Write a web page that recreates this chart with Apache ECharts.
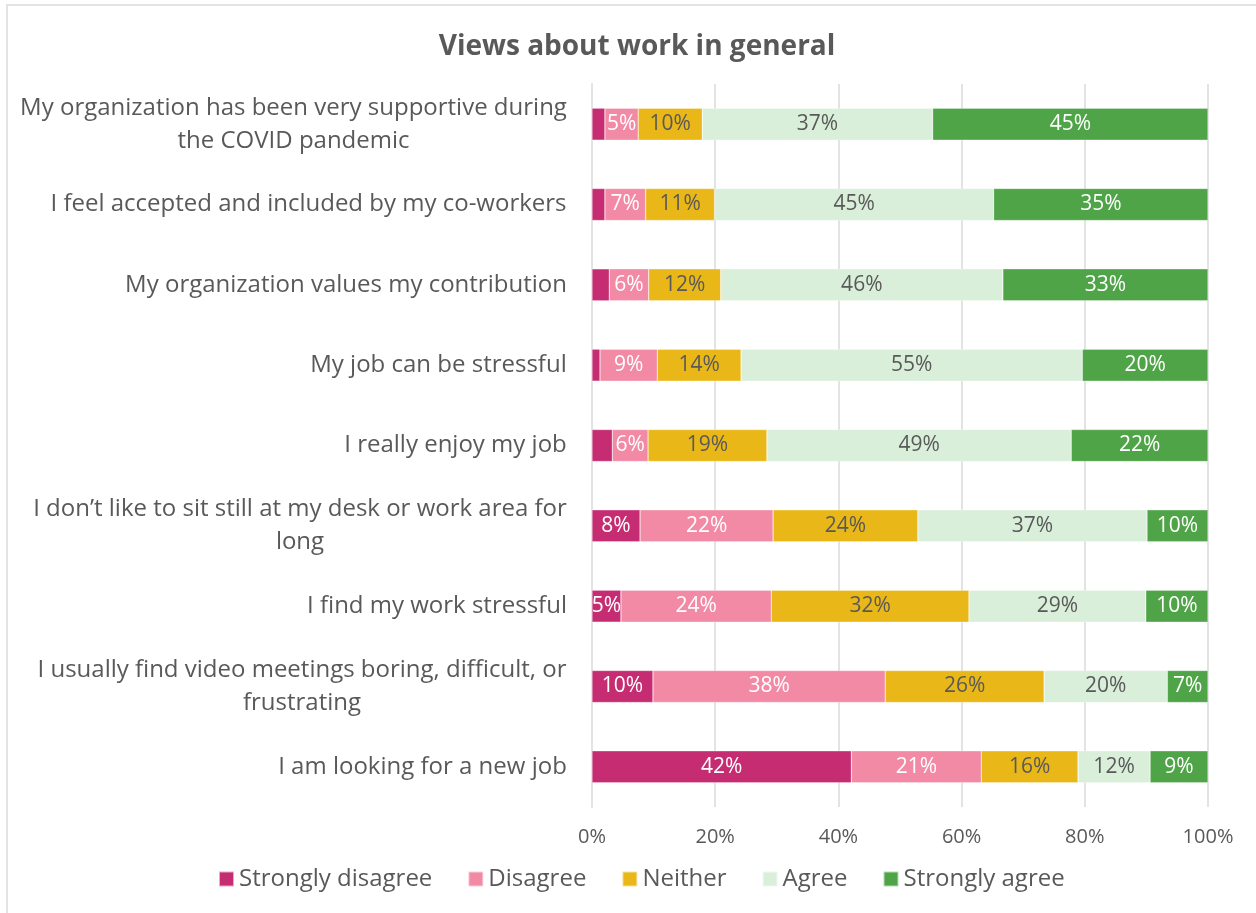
<!DOCTYPE html>
<html>
<head>
<meta charset="utf-8">
<title>Views about work in general</title>
<script src="https://cdn.jsdelivr.net/npm/echarts@6/dist/echarts.min.js"></script>
<style>
  html, body { margin: 0; padding: 0; background: #fff; }
  #frame { position: absolute; left: 6px; top: 4px; width: 1260px; height: 920px;
           border-left: 2px solid #e3e3e3; border-top: 2px solid #e3e3e3; }
  #chart { position: absolute; left: 0; top: 0; width: 1256px; height: 913px; }
</style>
</head>
<body>
<div id="frame"></div>
<div id="chart"></div>
<script>
// Survey statements, top to bottom
const statements = [
  'My organization has been very supportive during\nthe COVID pandemic',
  'I feel accepted and included by my co-workers',
  'My organization values my contribution',
  'My job can be stressful',
  'I really enjoy my job',
  'I don\u2019t like to sit still at my desk or work area for\nlong',
  'I find my work stressful',
  'I usually find video meetings boring, difficult, or\nfrustrating',
  'I am looking for a new job'
];

// Share of respondents (%) per answer, same order as statements
const stronglyDisagree = [2.1, 2.1, 2.8, 1.3, 3.3, 7.8, 4.7, 9.9, 42.1];
const disagree         = [5.4, 6.6, 6.4, 9.3, 5.8, 21.6, 24.4, 37.7, 21.1];
const neither          = [10.4, 11.2, 11.7, 13.6, 19.3, 23.5, 32.1, 25.8, 15.7];
const agree            = [37.4, 45.3, 45.8, 55.4, 49.4, 37.2, 28.7, 20.0, 11.7];
const stronglyAgree    = [44.7, 34.8, 33.3, 20.4, 22.2, 9.9, 10.1, 6.6, 9.4];

const axisTicks = [0, 20, 40, 60, 80, 100];

const textGrey = '#595959';
const font = 'Open Sans';
const catFontSize = 24;

// Category labels: the block is right-aligned to the axis, and the lines
// inside a wrapped label are centred on its longest line.
const measureCtx = document.createElement('canvas').getContext('2d');
measureCtx.font = catFontSize + 'px "' + font + '"';
const catRich = {};
statements.forEach((s, i) => {
  const w = Math.max(...s.split('\n').map(l => measureCtx.measureText(l).width));
  catRich['c' + i] = {
    width: Math.ceil(w) + 2,
    align: 'center',
    fontFamily: font,
    fontSize: catFontSize,
    color: textGrey,
    lineHeight: 33
  };
});

function makeSeries(name, data, color, labelColor, minShown) {
  return {
    name: name,
    type: 'bar',
    stack: 'total',
    data: data,
    barWidth: 32,
    itemStyle: { color: color, borderColor: 'rgba(255,255,255,0.6)', borderWidth: 0.5 },
    label: {
      show: true,
      position: 'inside',
      color: labelColor,
      fontFamily: font,
      fontSize: 21,
      formatter: p => (p.value >= minShown ? Math.round(p.value) + '%' : '')
    },
    emphasis: { disabled: true }
  };
}

const chart = echarts.init(document.getElementById('chart'), null, { renderer: 'canvas' });
chart.setOption({
  animation: false,
  backgroundColor: 'transparent',
  title: {
    text: 'Views about work in general',
    left: 632,
    textAlign: 'center',
    top: 28,
    textStyle: { fontFamily: font, fontSize: 28, fontWeight: 'bold', color: textGrey }
  },
  grid: { left: 592, right: 48, top: 84, bottom: 106, containLabel: false },
  legend: {
    bottom: 17,
    left: 213,
    itemWidth: 15,
    itemHeight: 15,
    itemGap: 35,
    icon: 'rect',
    textStyle: { fontFamily: font, fontSize: 24, color: textGrey },
    data: ['Strongly disagree', 'Disagree', 'Neither', 'Agree', 'Strongly agree']
  },
  xAxis: {
    type: 'value',
    min: axisTicks[0],
    max: axisTicks[axisTicks.length - 1],
    interval: axisTicks[1] - axisTicks[0],
    axisLine: { show: false },
    axisTick: { show: false },
    splitLine: { show: true, lineStyle: { color: '#e3e3e3', width: 2 } },
    axisLabel: {
      fontFamily: font, fontSize: 20, color: textGrey, margin: 20,
      formatter: v => v + '%'
    }
  },
  yAxis: {
    type: 'category',
    inverse: true,
    data: statements,
    axisLine: { show: true, lineStyle: { color: '#e3e3e3', width: 2 } },
    axisTick: { show: false },
    axisLabel: {
      margin: 24,
      overflow: 'none',
      rich: catRich,
      formatter: (v, i) => v.split('\n').map(l => '{c' + i + '|' + l + '}').join('\n')
    }
  },
  series: [
    makeSeries('Strongly disagree', stronglyDisagree, '#c52c72', '#ffffff', 4),
    makeSeries('Disagree', disagree, '#f28aa5', '#ffffff', 0),
    makeSeries('Neither', neither, '#e9b818', '#595959', 0),
    makeSeries('Agree', agree, '#d9efda', '#595959', 0),
    makeSeries('Strongly agree', stronglyAgree, '#4ea446', '#ffffff', 0)
  ]
});
</script>
</body>
</html>
